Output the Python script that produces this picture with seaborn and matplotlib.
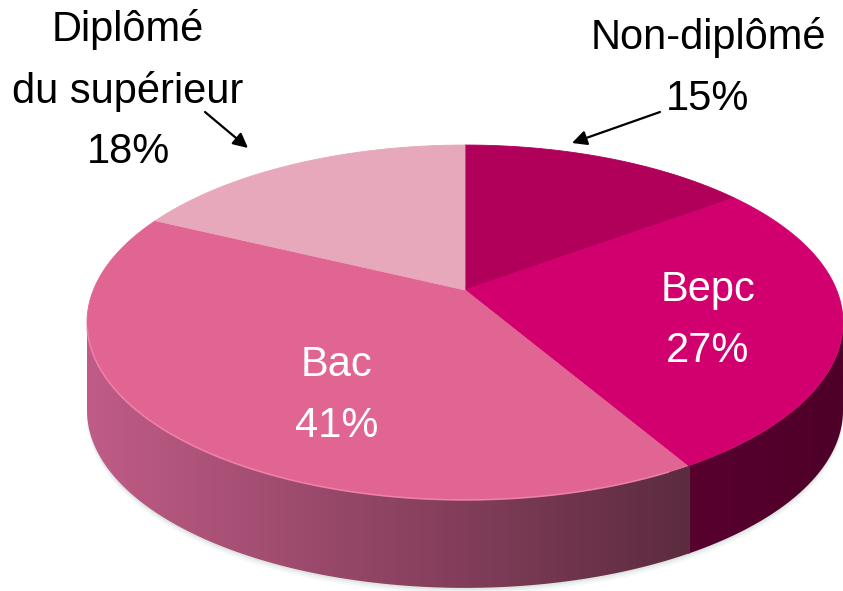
"""3D-style pie: niveau de diplôme."""

import matplotlib

matplotlib.use("Agg")
import matplotlib.pyplot as plt
import numpy as np
import seaborn as sns
from matplotlib.patches import Polygon

# data
categories = ["Non-diplômé", "Bepc", "Bac", "Diplômé\ndu supérieur"]
shares = [15, 27, 41, 18]
top_colors = ["#B0005A", "#D2006E", "#E06592", "#E8A8BC"]
side_colors = [
    ["#6A0034", "#5A002C"],
    ["#58002F", "#4E0028"],
    ["#C05C87", "#5C2B3F"],
    ["#C88A9E", "#A06A7E"],
]
text_colors = ["black", "white", "white", "black"]

# layout (pixel space of the 843x591 canvas)
CX, CY = 465, 290
RX, RY, PERSP = 371.6, 171.5, 0.183
DEPTH = 88
label_pos = [(708, 38), (708, 290), (337, 365), (128, 30)]
line_gap = 61
arrows = [((660, 112), (572, 143)), None, None, ((205, 112), (248, 148))]

sns.set_theme(style="white")
plt.rcParams["font.family"] = ["Liberation Sans", "DejaVu Sans"]


def project(theta, r=1.0, drop=0.0):
    """theta in degrees, clockwise from top; perspective-squashed disc."""
    t = np.radians(theta)
    u = r * np.sin(t)
    v = r * np.cos(t)
    w = 1 + PERSP * v
    return CX + RX * u / w, CY - RY * v / w + drop


fig = plt.figure(figsize=(8.43, 5.91), dpi=100)
ax = fig.add_axes([0, 0, 1, 1])

fracs = np.array(shares, dtype=float) / sum(shares)
edges = np.concatenate([[0], np.cumsum(fracs) * 360])

# visible side spans between the silhouette points
side_a = np.degrees(np.arctan2(np.sqrt(1 - PERSP**2), -PERSP))
side_b = 360 - side_a

# soft shadow under the disc
ring = np.linspace(side_a - 10, side_b + 10, 200)
for off, alpha in [(6, 0.05), (4, 0.07), (2, 0.1)]:
    xs, ys = project(ring, drop=DEPTH + off)
    xt, yt = project(ring[::-1], drop=DEPTH - 30)
    ax.add_patch(Polygon(np.column_stack([np.r_[xs, xt], np.r_[ys, yt]]),
                         closed=True, color="#6a8a80", alpha=alpha, lw=0, zorder=1))

# sides (each piece overlaps the previous one slightly so no seam shows)
for i in range(len(shares)):
    a, b = max(edges[i] - 0.4, side_a), min(edges[i + 1], side_b)
    if a >= b:
        continue
    th = np.linspace(a, b, 120)
    xt, yt = project(th)
    xb, yb = project(th[::-1], drop=DEPTH)
    poly = Polygon(np.column_stack([np.r_[xt, xb], np.r_[yt, yb]]), closed=True,
                   facecolor="none", edgecolor="none", zorder=2)
    ax.add_patch(poly)
    cmap = sns.blend_palette(side_colors[i], as_cmap=True)
    x0, x1 = min(xt.min(), xb.min()), max(xt.max(), xb.max())
    y0, y1 = min(yt.min(), yb.min()), max(yt.max(), yb.max())
    grad = np.linspace(0, 1, 256)[None, :]
    img = ax.imshow(grad, cmap=cmap, extent=(x0, x1, y1, y0), aspect="auto",
                    interpolation="bicubic", zorder=2 + 0.01 * i)
    img.set_clip_path(poly)

ax.set_xlim(0, 843)
ax.set_ylim(591, 0)
ax.axis("off")

# top faces
for i in range(len(shares)):
    th = np.linspace(edges[i], edges[i + 1], 200)
    xs, ys = project(th)
    pts = np.column_stack([np.r_[CX, xs], np.r_[CY, ys]])
    ax.add_patch(Polygon(pts, closed=True, facecolor=top_colors[i],
                         edgecolor=top_colors[i], lw=0.6, zorder=3))

# light rim on the front edge of the Bac slice
th = np.linspace(edges[2] + 3, side_b - 2, 200)
xs, ys = project(th)
ax.plot(xs, ys, color="#F486AE", lw=1.2, alpha=0.8, zorder=4)

# labels
for i, cat in enumerate(categories):
    x, y = label_pos[i]
    lines = cat.split("\n") + [f"{shares[i]}%"]
    for j, txt in enumerate(lines):
        ax.text(x, y + j * line_gap, txt, ha="center", va="center",
                fontsize=30, color=text_colors[i], zorder=5)
    if arrows[i] is not None:
        start, end = arrows[i]
        ax.annotate("", xy=end, xytext=start,
                    arrowprops=dict(arrowstyle="-|>", color="black", lw=1.6,
                                    mutation_scale=22, shrinkA=0, shrinkB=0),
                    zorder=5)

fig.savefig("out.png", dpi=100)
plt.close(fig)
